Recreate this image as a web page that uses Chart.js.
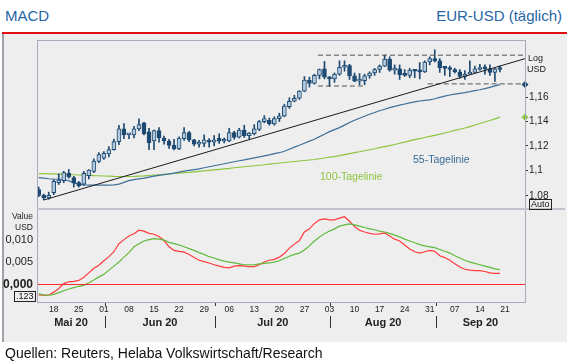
<!DOCTYPE html>
<html>
<head>
<meta charset="utf-8">
<script src="https://cdn.jsdelivr.net/npm/chart.js@4.4.1/dist/chart.umd.min.js"></script>
<style>
  body { margin: 0; width: 567px; height: 363px; background: #fff; position: relative; overflow: hidden;
         font-family: "Liberation Sans", Arial, sans-serif; }
  .txt { position: absolute; white-space: nowrap; line-height: 1; }
  #panel { position: absolute; left: 2px; top: 34px; width: 565px; height: 308px; background: #eeeeee;
           border-left: 2px solid #a0a0a8; }
  #redline { position: absolute; left: 2px; top: 32px; width: 565px; height: 2px; background: #e01010; }
  canvas { position: absolute; left: 0; }
  .box { position: absolute; border: 1px solid #222; font-size: 9px; line-height: 9px; padding: 0 1px; color: #111; }
</style>
</head>
<body>
<div id="panel"></div>
<div id="redline"></div>
<div class="txt" style="left:5px; top:8px; font-size:15px; color:#2566a6;">MACD</div>
<div class="txt" style="right:5px; top:8px; font-size:15px; color:#2566a6;">EUR-USD (täglich)</div>

<canvas id="top" width="567" height="216" style="top:0"></canvas>
<canvas id="bottom" width="567" height="141" style="top:199px"></canvas>

<div class="txt" style="left:528px; top:54px; font-size:9px; color:#222;">Log</div>
<div class="txt" style="left:527px; top:65px; font-size:9px; color:#222;">USD</div>
<div class="box" style="left:529px; top:199px;">Auto</div>
<div class="txt" style="left:413px; top:154px; font-size:10.5px; color:#3a6b94;">55-Tagelinie</div>
<div class="txt" style="left:320px; top:171px; font-size:10.5px; color:#8cc63f;">100-Tagelinie</div>
<div class="txt" style="right:534px; top:212px; font-size:8.5px; color:#222;">Value</div>
<div class="txt" style="right:534px; top:223px; font-size:8.5px; color:#222;">USD</div>
<div class="box" style="left:14px; top:291px;">.123</div>
<div class="txt" style="left:5px; top:346px; font-size:14px; color:#111;">Quellen: Reuters, Helaba Volkswirtschaft/Research</div>

<script>
// --- Data (trading days 13.05.2020 - 18.09.2020) ---
const openP = [1.0850,1.0805,1.0785,1.0825,1.0905,1.0920,1.0980,1.0945,1.0905,1.0893,
  1.0960,1.0995,1.1075,1.1100,1.1135,1.1170,1.1235,1.1340,1.1290,1.1290,
  1.1340,1.1390,1.1315,1.1240,1.1325,1.1265,1.1240,1.1205,1.1175,1.1260,
  1.1310,1.1250,1.1215,1.1220,1.1245,1.1230,1.1262,1.1238,1.1240,1.1310,
  1.1272,1.1330,1.1285,1.1300,1.1335,1.1400,1.1410,1.1380,1.1425,1.1445,
  1.1525,1.1570,1.1595,1.1655,1.1750,1.1720,1.1790,1.1845,1.1775,1.1760,
  1.1800,1.1860,1.1875,1.1785,1.1740,1.1745,1.1785,1.1810,1.1840,1.1870,
  1.1930,1.1835,1.1845,1.1795,1.1790,1.1835,1.1825,1.1820,1.1905,1.1935,
  1.1915,1.1855,1.1850,1.1840,1.1820,1.1780,1.1800,1.1815,1.1840,1.1848,
  1.1845,1.1815,1.1845];
const highP = [1.0870,1.0815,1.0830,1.0926,1.0975,1.0995,1.1010,1.0955,1.0915,1.0995,
  1.1010,1.1095,1.1147,1.1155,1.1195,1.1257,1.1370,1.1384,1.1300,1.1360,
  1.1422,1.1395,1.1345,1.1330,1.1350,1.1280,1.1255,1.1255,1.1275,1.1350,
  1.1320,1.1255,1.1245,1.1290,1.1260,1.1285,1.1300,1.1265,1.1345,1.1320,
  1.1345,1.1370,1.1310,1.1375,1.1410,1.1450,1.1430,1.1440,1.1470,1.1545,
  1.1600,1.1620,1.1660,1.1780,1.1775,1.1800,1.1845,1.1910,1.1780,1.1810,
  1.1915,1.1915,1.1885,1.1810,1.1805,1.1800,1.1820,1.1850,1.1880,1.1966,
  1.1950,1.1880,1.1880,1.1840,1.1850,1.1840,1.1900,1.1915,1.1950,1.2011,
  1.1935,1.1860,1.1870,1.1850,1.1840,1.1830,1.1915,1.1870,1.1885,1.1880,
  1.1880,1.1850,1.1870];
const lowP = [1.0795,1.0770,1.0775,1.0810,1.0890,1.0905,1.0940,1.0870,1.0870,1.0885,
  1.0935,1.0985,1.1065,1.1090,1.1110,1.1165,1.1210,1.1260,1.1260,1.1265,
  1.1325,1.1290,1.1170,1.1170,1.1230,1.1215,1.1180,1.1168,1.1170,1.1245,
  1.1235,1.1200,1.1190,1.1195,1.1190,1.1200,1.1220,1.1225,1.1235,1.1255,
  1.1265,1.1270,1.1255,1.1290,1.1325,1.1390,1.1370,1.1370,1.1400,1.1440,
  1.1510,1.1565,1.1585,1.1650,1.1690,1.1715,1.1760,1.1760,1.1695,1.1730,
  1.1790,1.1825,1.1755,1.1735,1.1710,1.1710,1.1765,1.1790,1.1815,1.1865,
  1.1825,1.1800,1.1755,1.1780,1.1770,1.1770,1.1760,1.1815,1.1880,1.1905,
  1.1815,1.1790,1.1780,1.1810,1.1765,1.1755,1.1800,1.1815,1.1835,1.1800,
  1.1790,1.1737,1.1820];
const closeP = [1.0805,1.0785,1.0805,1.0916,1.0925,1.0985,1.0950,1.0900,1.0880,1.0980,
  1.1005,1.1077,1.1130,1.1140,1.1170,1.1235,1.1340,1.1290,1.1297,1.1340,
  1.1375,1.1300,1.1225,1.1325,1.1265,1.1240,1.1205,1.1175,1.1265,1.1310,
  1.1250,1.1215,1.1230,1.1250,1.1230,1.1250,1.1238,1.1248,1.1310,1.1270,
  1.1330,1.1285,1.1305,1.1340,1.1400,1.1425,1.1383,1.1425,1.1445,1.1530,
  1.1570,1.1595,1.1655,1.1750,1.1720,1.1790,1.1840,1.1775,1.1760,1.1800,
  1.1860,1.1875,1.1785,1.1740,1.1745,1.1785,1.1810,1.1840,1.1870,1.1930,
  1.1835,1.1845,1.1795,1.1790,1.1835,1.1825,1.1820,1.1905,1.1935,1.1915,
  1.1855,1.1850,1.1840,1.1820,1.1780,1.1800,1.1815,1.1845,1.1848,1.1845,
  1.1815,1.1845,1.1840];

const ma55 = [1.0945,1.0941,1.0936,1.0933,1.0932,1.0930,1.0919,1.0905,1.0891,1.0887,
  1.0885,1.0885,1.0885,1.0885,1.0885,1.0887,1.0893,1.0907,1.0921,1.0929,
  1.0935,1.0941,1.0949,1.0957,1.0963,1.0969,1.0975,1.0981,1.0989,1.0997,
  1.1003,1.1009,1.1015,1.1024,1.1032,1.1040,1.1048,1.1056,1.1064,1.1072,
  1.1080,1.1087,1.1095,1.1103,1.1111,1.1119,1.1127,1.1137,1.1145,1.1157,
  1.1173,1.1190,1.1206,1.1222,1.1239,1.1255,1.1276,1.1296,1.1317,1.1334,
  1.1350,1.1371,1.1392,1.1411,1.1428,1.1444,1.1461,1.1476,1.1490,1.1503,
  1.1516,1.1527,1.1537,1.1547,1.1556,1.1564,1.1572,1.1577,1.1582,1.1591,
  1.1603,1.1613,1.1623,1.1630,1.1637,1.1643,1.1651,1.1660,1.1667,1.1677,
  1.1688,1.1700,1.1711];
const ma100 = [1.0977,1.0976,1.0975,1.0974,1.0973,1.0971,1.0969,1.0968,1.0966,1.0965,
  1.0963,1.0961,1.0960,1.0958,1.0957,1.0955,1.0954,1.0954,1.0954,1.0955,
  1.0957,1.0959,1.0962,1.0965,1.0968,1.0971,1.0974,1.0978,1.0981,1.0984,
  1.0987,1.0991,1.0995,1.0999,1.1003,1.1007,1.1011,1.1015,1.1019,1.1024,
  1.1028,1.1032,1.1036,1.1040,1.1044,1.1048,1.1053,1.1057,1.1062,1.1066,
  1.1070,1.1074,1.1078,1.1082,1.1086,1.1090,1.1096,1.1102,1.1109,1.1114,
  1.1121,1.1129,1.1137,1.1145,1.1153,1.1161,1.1169,1.1177,1.1186,1.1194,
  1.1202,1.1212,1.1222,1.1231,1.1241,1.1251,1.1260,1.1269,1.1278,1.1287,
  1.1296,1.1306,1.1316,1.1327,1.1337,1.1347,1.1359,1.1372,1.1384,1.1397,
  1.1409,1.1423,1.1437];

// trend line and horizontal range lines (x = trading-day index)
const trendX = [1, 97];
const trendY = [1.0768, 1.1934];
const rangeTopX = [55.7, 97];
const rangeTopY = [1.1964, 1.1964];
const rangeLowX = [55.7, 65.3];
const rangeLowY = [1.1699, 1.1699];
const rangeLow2X = [77.6, 97];
const rangeLow2Y = [1.1717, 1.1717];

const macd = [-0.0023,-0.0024,-0.0024,-0.0017,-0.0009,0.0002,0.0006,0.0007,0.0009,0.0016,
  0.0026,0.0036,0.0043,0.0053,0.0062,0.0073,0.0091,0.0100,0.0108,0.0113,
  0.0121,0.0119,0.0114,0.0112,0.0107,0.0098,0.0084,0.0076,0.0074,0.0072,
  0.0067,0.0060,0.0054,0.0051,0.0048,0.0044,0.0041,0.0038,0.0037,0.0041,
  0.0042,0.0041,0.0040,0.0040,0.0044,0.0050,0.0054,0.0056,0.0061,0.0069,
  0.0081,0.0090,0.0098,0.0117,0.0124,0.0136,0.0144,0.0146,0.0144,0.0144,
  0.0148,0.0151,0.0141,0.0129,0.0121,0.0117,0.0114,0.0112,0.0113,0.0115,
  0.0108,0.0101,0.0097,0.0088,0.0079,0.0073,0.0070,0.0073,0.0076,0.0074,
  0.0064,0.0060,0.0054,0.0046,0.0039,0.0034,0.0032,0.0031,0.0031,0.0029,
  0.0026,0.0025,0.0025];
const signal = [-0.0021,-0.0023,-0.0024,-0.0022,-0.0018,-0.0014,-0.0010,-0.0007,-0.0004,-0.0002,
  0.0004,0.0010,0.0017,0.0023,0.0032,0.0041,0.0050,0.0061,0.0071,0.0084,
  0.0091,0.0097,0.0100,0.0102,0.0101,0.0099,0.0094,0.0091,0.0088,0.0084,
  0.0080,0.0076,0.0071,0.0067,0.0062,0.0059,0.0055,0.0052,0.0050,0.0048,
  0.0046,0.0044,0.0044,0.0044,0.0046,0.0047,0.0048,0.0050,0.0053,0.0058,
  0.0063,0.0067,0.0070,0.0077,0.0086,0.0097,0.0106,0.0113,0.0119,0.0124,
  0.0130,0.0133,0.0135,0.0133,0.0130,0.0127,0.0124,0.0122,0.0119,0.0117,
  0.0114,0.0110,0.0106,0.0101,0.0097,0.0093,0.0089,0.0086,0.0084,0.0082,
  0.0078,0.0074,0.0070,0.0064,0.0059,0.0054,0.0050,0.0047,0.0044,0.0041,
  0.0038,0.0035,0.0033];

// ticks
const priceTicks = [1.08, 1.10, 1.12, 1.14, 1.16];
const macdTicks = [0, 0.005, 0.010];
const weekTickIdx = [3,8,13,18,23,28,33,38,43,48,53,58,63,68,73,78,83,88,93];
const weekTickLabels = ['18','25','01','08','15','22','29','06','13','20','27','03','10','17','24','31','07','14','21'];
const monthNames = ['Mai 20','Jun 20','Jul 20','Aug 20','Sep 20'];
const monthStartIdx = [13, 35, 58, 79];

// --- Setup ---
const X_MIN = -0.34, X_MAX = 97;
const NAVY = '#1d4a72';
const LIGHT = '#b4cade';
const FRAME = '#a9a9b9';
Chart.defaults.font.family = '"Liberation Sans", Arial, sans-serif';
Chart.defaults.animation = false;
Chart.defaults.plugins.legend.display = false;
Chart.defaults.plugins.tooltip.enabled = false;

const pts = (xs, ys) => xs.map((x, i) => ({ x: x, y: ys[i] }));
const series = arr => arr.map((v, i) => ({ x: i, y: v }));
const lineDs = (data, color, extra) => Object.assign({
  type: 'line', data: data, borderColor: color, borderWidth: 1, pointRadius: 0, tension: 0
}, extra || {});

// frame around the plot areas
const framePlugin = {
  id: 'frame',
  afterDraw(chart, args, opts) {
    const a = chart.chartArea, ctx = chart.ctx;
    ctx.save();
    ctx.strokeStyle = FRAME;
    ctx.lineWidth = 1;
    ctx.beginPath();
    if (opts.top) { ctx.moveTo(a.left, a.top + 0.5); ctx.lineTo(a.right, a.top + 0.5); }
    ctx.moveTo(a.left + 0.5, a.top); ctx.lineTo(a.left + 0.5, a.bottom);
    ctx.moveTo(a.right + 0.5, a.top); ctx.lineTo(a.right + 0.5, a.bottom);
    if (opts.bottom) { ctx.moveTo(a.left, a.bottom + 0.5); ctx.lineTo(a.right, a.bottom + 0.5); }
    ctx.stroke();
    if (opts.sep) {
      ctx.strokeStyle = '#c3c3cf';
      ctx.lineWidth = 2;
      ctx.beginPath();
      ctx.moveTo(a.left, a.bottom); ctx.lineTo(chart.width - 2, a.bottom);
      ctx.stroke();
    }
    ctx.restore();
  }
};

// month separators under the date axis
const monthPlugin = {
  id: 'months',
  afterDraw(chart) {
    const xs = chart.scales.x, ms = chart.scales.m, ctx = chart.ctx;
    ctx.save();
    ctx.strokeStyle = '#333';
    ctx.lineWidth = 1;
    ctx.beginPath();
    monthStartIdx.forEach(v => {
      const px = Math.round(xs.getPixelForValue(v + 0.2)) + 0.5;
      ctx.moveTo(px, xs.top + 1); ctx.lineTo(px, xs.top + 4);
      ctx.moveTo(px, ms.top); ctx.lineTo(px, ms.top + 12);
    });
    ctx.stroke();
    ctx.restore();
  }
};

const idx = openP.map((_, i) => i);

// --- Price chart ---
new Chart(document.getElementById('top'), {
  type: 'bar',
  data: {
    datasets: [
      lineDs(series(ma100), '#8cc63f', { borderWidth: 1.2, order: 6 }),
      lineDs(series(ma55), '#3f6f99', { borderWidth: 1.2, order: 5 }),
      {
        type: 'bar', data: idx.map(i => ({ x: i, y: [lowP[i], highP[i]] })),
        backgroundColor: NAVY, barThickness: 1, grouped: false, order: 4
      },
      {
        type: 'bar', data: idx.map(i => ({ x: i, y: [openP[i], closeP[i]] })),
        backgroundColor: idx.map(i => closeP[i] >= openP[i] ? LIGHT : NAVY),
        borderColor: NAVY, borderWidth: 1, borderSkipped: false, minBarLength: 2,
        barThickness: 4, grouped: false, order: 3
      },
      lineDs(pts(trendX, trendY), '#1a1a1a', { order: 2 }),
      lineDs(pts(rangeTopX, rangeTopY), '#555', { borderDash: [5, 3], order: 2 }),
      lineDs(pts(rangeLowX, rangeLowY), '#555', { borderDash: [5, 3], order: 2 }),
      lineDs(pts(rangeLow2X, rangeLow2Y), '#555', { borderDash: [5, 3], order: 2 }),
      {
        type: 'scatter',
        data: [{ x: X_MAX, y: ma55[ma55.length - 1] }, { x: X_MAX, y: ma100[ma100.length - 1] }],
        pointStyle: 'rectRot', pointRadius: 3.5,
        backgroundColor: ['#1d4a72', '#8cc63f'], borderWidth: 0, clip: false, order: 0
      }
    ]
  },
  options: {
    responsive: false,
    layout: { padding: { left: 37, top: 40, right: 0, bottom: 7 } },
    scales: {
      x: { type: 'linear', min: X_MIN, max: X_MAX, display: false, offset: false },
      y: {
        type: 'logarithmic', position: 'right', min: 1.0698, max: 1.2097,
        afterBuildTicks: s => { s.ticks = priceTicks.map(v => ({ value: v })); },
        afterFit: s => { s.width = 42; },
        ticks: {
          callback: v => String(v).replace('.', ','),
          color: '#222', font: { size: 10 }, padding: 1, autoSkip: false
        },
        grid: { drawOnChartArea: false, drawTicks: true, tickLength: 3, color: '#333' },
        border: { color: FRAME }
      }
    },
    plugins: { frame: { top: true, sep: true } }
  },
  plugins: [framePlugin]
});

// --- MACD chart ---
const monthCenters = (() => {
  const b = [X_MIN].concat(monthStartIdx.map(v => v + 0.2), [X_MAX]);
  return monthNames.map((_, i) => (b[i] + b[i + 1]) / 2);
})();

new Chart(document.getElementById('bottom'), {
  type: 'line',
  data: {
    datasets: [
      lineDs(pts([X_MIN, X_MAX], [0, 0]), '#ff2b2b'),
      lineDs(series(signal), '#5fba3c', { borderWidth: 1.2 }),
      lineDs(series(macd), '#ff3b3b', { borderWidth: 1.2 }),
      {
        type: 'scatter',
        data: [{ x: X_MIN - 1, y: signal[signal.length - 1] }, { x: X_MIN - 1, y: macd[macd.length - 1] }],
        pointStyle: 'circle', pointRadius: 2.6,
        backgroundColor: ['#3cae2a', '#ff2020'], borderWidth: 0, clip: false
      }
    ]
  },
  options: {
    responsive: false,
    layout: { padding: { left: 0, top: 11, right: 42, bottom: 0 } },
    scales: {
      x: {
        type: 'linear', min: X_MIN, max: X_MAX, position: 'bottom',
        afterBuildTicks: s => { s.ticks = weekTickIdx.map(v => ({ value: v })); },
        afterFit: s => { s.height = 14; },
        ticks: {
          callback: (v, i) => weekTickLabels[i],
          color: '#222', font: { size: 8.5 }, padding: 3, maxRotation: 0, autoSkip: false
        },
        grid: { display: false, drawTicks: false },
        border: { display: true, color: FRAME }
      },
      m: {
        type: 'linear', axis: 'x', min: X_MIN, max: X_MAX, position: 'bottom',
        afterBuildTicks: s => { s.ticks = monthCenters.map(v => ({ value: v })); },
        afterFit: s => { s.height = 24; },
        ticks: {
          callback: (v, i) => monthNames[i],
          color: '#222', font: { size: 11, weight: 'bold' }, padding: 0, maxRotation: 0, autoSkip: false
        },
        grid: { display: false, drawTicks: false },
        border: { display: false }
      },
      y: {
        position: 'left', min: -0.0039, max: 0.0166,
        afterBuildTicks: s => { s.ticks = macdTicks.map(v => ({ value: v })); },
        afterFit: s => { s.width = 37; },
        ticks: {
          callback: v => v.toFixed(3).replace('.', ','),
          color: '#222', padding: 4, autoSkip: false,
          font: ctx => ctx.tick && ctx.tick.value === 0 ? { size: 12, weight: 'bold' } : { size: 11 }
        },
        grid: { display: false, drawTicks: false },
        border: { display: true, color: FRAME }
      }
    },
    plugins: { frame: { bottom: true } }
  },
  plugins: [framePlugin, monthPlugin]
});
</script>
</body>
</html>
